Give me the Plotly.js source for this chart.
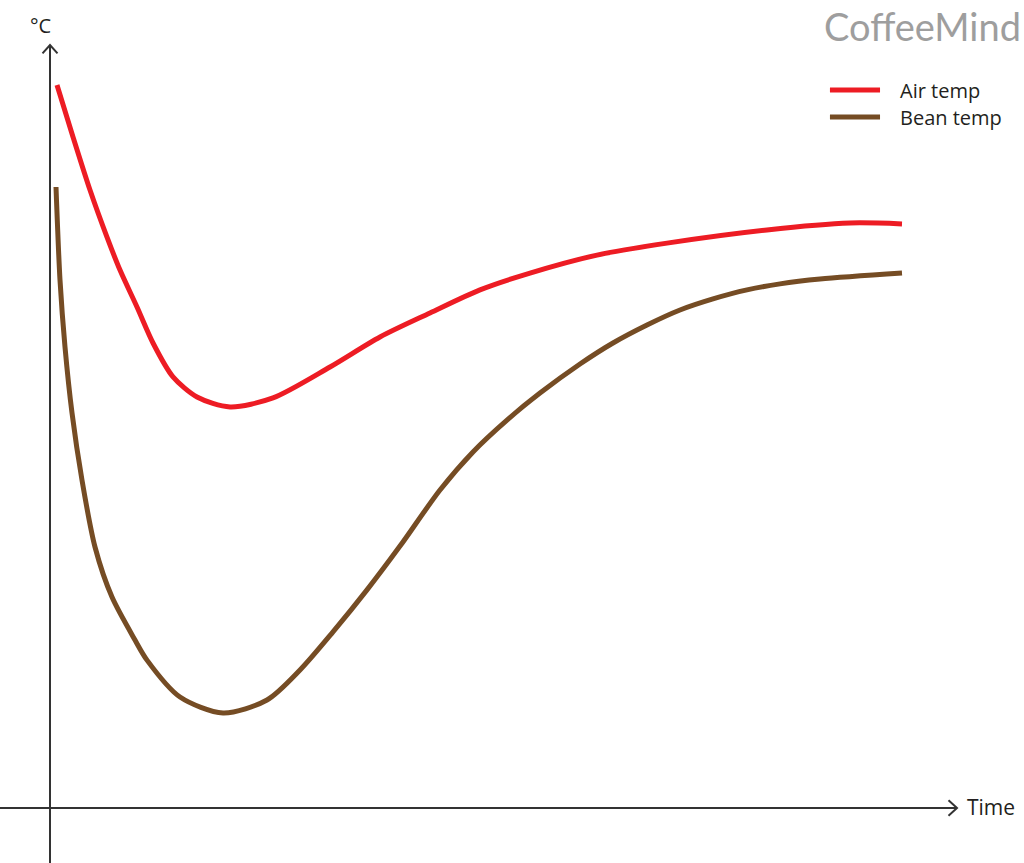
<!DOCTYPE html>
<html>
<head>
<meta charset="utf-8">
<script src="https://cdn.plot.ly/plotly-3.0.1.min.js"></script>
<style>
  html, body { margin: 0; padding: 0; background: #fff; }
  #grafico { width: 1024px; height: 863px; }
</style>
</head>
<body>
<div id="grafico"></div>
<script>
// tiempo (unidades arbitrarias) y temperaturas
const tiempoAire = [0.14, 0.46, 0.8, 1.14, 1.4, 1.74, 2.06, 2.46, 2.94, 3.6, 4.46, 5.6, 6.6, 7.6, 8.6, 9.6, 10.94, 12.34, 14.34, 16.0, 17.04];
const tempAire   = [241.0, 223.7, 206.0, 190.3, 179.3, 167.0, 155.0, 143.7, 137.0, 133.7, 136.7, 147.0, 157.0, 165.0, 172.7, 178.3, 184.3, 188.3, 192.7, 195.0, 194.7];

const tiempoGrano = [0.12, 0.2, 0.3, 0.44, 0.64, 0.9, 1.24, 1.7, 1.94, 2.6, 3.46, 4.34, 5.0, 5.66, 6.34, 7.0, 7.8, 8.46, 9.14, 9.8, 10.6, 11.26, 11.94, 12.6, 13.26, 13.94, 14.6, 15.4, 17.04];
const tempGrano   = [207.0, 176.0, 153.7, 131.7, 109.3, 87.0, 70.3, 56.0, 49.3, 37.0, 31.7, 36.0, 46.0, 58.7, 72.7, 87.3, 106.0, 118.7, 129.3, 138.3, 148.0, 155.0, 161.0, 166.0, 169.7, 172.7, 174.7, 176.3, 178.3];

const nombres = ["Air temp", "Bean temp"];
const colores = ["#ED1C24", "#754C24"];

// Trazas
var aire = {
    x: tiempoAire,
    y: tempAire,
    type: 'scatter',
    mode: 'lines',
    name: nombres[0],
    line: { color: colores[0], width: 5, shape: 'spline', smoothing: 0.8 }
};

var grano = {
    x: tiempoGrano,
    y: tempGrano,
    type: 'scatter',
    mode: 'lines',
    name: nombres[1],
    line: { color: colores[1], width: 5, shape: 'spline', smoothing: 0.8 }
};

// ejes dibujados a mano como flechas
const colorEje = '#333333';
const colorTexto = '#231F20';
const xMin = -1, xMax = 19.48, yMin = -18.33, yMax = 269.33;
const puntaX = 18.14, puntaY = 254.33;

// leyenda hecha a mano (lineas + textos)
const leyendaY = [0.8957, 0.8644];

var layout = {
    width: 1024,
    height: 863,
    margin: { l: 0, r: 0, t: 0, b: 0 },
    paper_bgcolor: '#ffffff',
    plot_bgcolor: '#ffffff',
    font: { family: 'Open Sans, sans-serif', color: colorTexto },
    xaxis: { range: [xMin, xMax], visible: false, fixedrange: true },
    yaxis: { range: [yMin, yMax], visible: false, fixedrange: true },
    showlegend: false,
    shapes: [
        { type: 'line', xref: 'x', yref: 'y', x0: xMin, x1: puntaX, y0: 0, y1: 0, line: { color: colorEje, width: 2 } },
        { type: 'line', xref: 'x', yref: 'y', x0: 0, x1: 0, y0: yMin, y1: puntaY, line: { color: colorEje, width: 2 } },
        { type: 'path', xref: 'x', yref: 'y', path: `M${puntaX - 0.17},${2.6} L${puntaX},0 L${puntaX - 0.17},${-2.6}`, line: { color: colorEje, width: 2 } },
        { type: 'path', xref: 'x', yref: 'y', path: `M${-0.15},${puntaY - 2.8} L0,${puntaY} L${0.15},${puntaY - 2.8}`, line: { color: colorEje, width: 2 } }
    ],
    annotations: [
        { text: '°C', xref: 'paper', yref: 'paper', x: 0.04, y: 0.971, xanchor: 'center', yanchor: 'middle', showarrow: false, font: { size: 20, color: colorTexto } },
        { text: 'Time', xref: 'paper', yref: 'paper', x: 0.942, y: 0.065, xanchor: 'left', yanchor: 'middle', showarrow: false, font: { size: 21, color: colorTexto } },
        { text: 'CoffeeMind', xref: 'paper', yref: 'paper', x: 0.999, y: 0.999, xanchor: 'right', yanchor: 'top', showarrow: false, font: { size: 38, color: '#9E9E9E', family: 'Lato, sans-serif' } }
    ]
};

nombres.forEach(function (nombre, i) {
    layout.shapes.push({ type: 'line', xref: 'paper', yref: 'paper', x0: 0.8105, x1: 0.8594, y0: leyendaY[i], y1: leyendaY[i], line: { color: colores[i], width: 5 } });
    layout.annotations.push({ text: nombre, xref: 'paper', yref: 'paper', x: 0.877, y: leyendaY[i] - 0.001, xanchor: 'left', yanchor: 'middle', showarrow: false, font: { size: 20, color: colorTexto } });
});

Plotly.newPlot('grafico', [aire, grano], layout, { staticPlot: true });
</script>
</body>
</html>
